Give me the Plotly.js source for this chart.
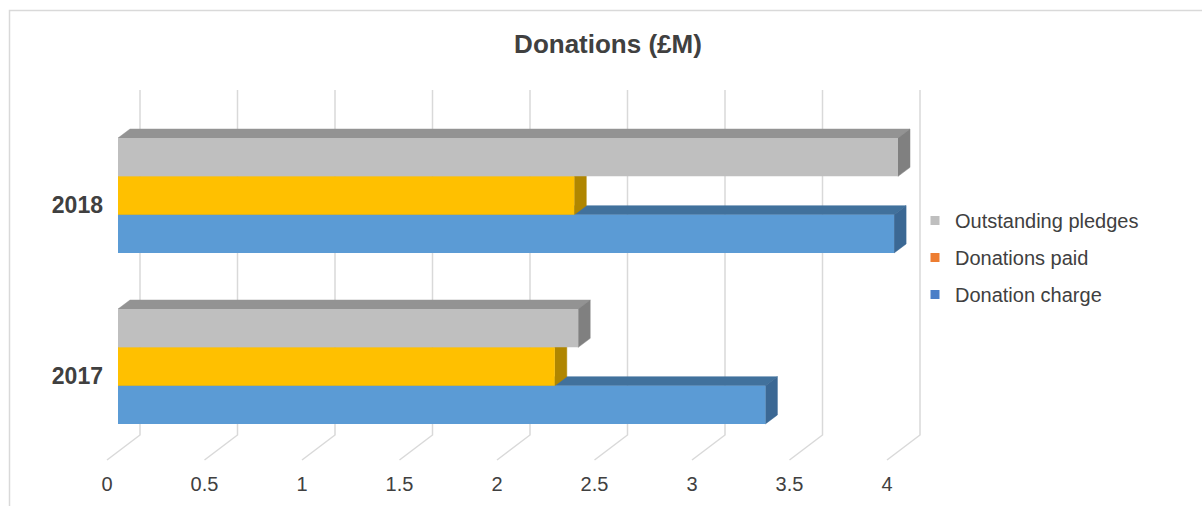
<!DOCTYPE html>
<html><head><meta charset="utf-8">
<script src="https://cdn.plot.ly/plotly-3.0.1.min.js"></script>
<style>html,body{margin:0;padding:0;background:#fff;}#chart{width:1202px;height:506px;}</style>
</head><body><div id="chart"></div>
<script>
// ---- data ----
const categories = ['2017', '2018'];
const seriesNames = ['Donation charge', 'Donations paid', 'Outstanding pledges'];
const donationCharge = [3.32, 3.98];
const donationsPaid = [2.24, 2.34];
const outstandingPledges = [2.36, 4.00];
const tickValues = [0, 0.5, 1, 1.5, 2, 2.5, 3, 3.5, 4];
const tickLabels = ['0', '0.5', '1', '1.5', '2', '2.5', '3', '3.5', '4'];
const chartTitle = 'Donations (£M)';

// ---- styles ----
const seriesValues = [donationCharge, donationsPaid, outstandingPledges];
const frontColors = ['#5B9BD5', '#FFC000', '#BFBFBF'];
const topColors = ['#41719C', '#B68A00', '#939393'];
const sideColors = ['#3B6894', '#B08600', '#808080'];
const legendColors = ['#4A7EC7', '#ED7D31', '#BFBFBF'];
const FONT = 'Liberation Sans, Arial, sans-serif';
const TEXT = '#404040';

// ---- geometry (px) ----
const W = 1202, H = 506;
const L = 104, R = 935, T = 85, B = 470;
const X0PX = 118, PXPERUNIT = 195;
const CAT0PX = 366.5, PXPERCAT = 171;
const xRange = [(L - X0PX) / PXPERUNIT, (R - X0PX) / PXPERUNIT];
const yLow = -(B - CAT0PX) / PXPERCAT;
const yRange = [yLow, yLow + (B - T) / PXPERCAT];
const BARGAP = 0.328;
const groupW = 1 - BARGAP, barW = groupW / 3;
const dX = 12 / PXPERUNIT, dY = 9 / PXPERCAT;
const paperX = px => (px - L) / (R - L);
const paperY = px => (B - px) / (B - T);
const pxToY = px => (CAT0PX - px) / PXPERCAT;

const traces = [];
// 3D faces (base subplot, drawn beneath the bars)
seriesValues.forEach((vals, si) => {
  const tx = [], ty = [], sx = [], sy = [];
  vals.forEach((v, ci) => {
    const yb = ci - groupW / 2 + si * barW, yt = yb + barW;
    tx.push(0, v, v + dX, dX, 0, null);
    ty.push(yt, yt, yt + dY, yt + dY, yt, null);
    sx.push(v, v, v + dX, v + dX, v, null);
    sy.push(yb, yt, yt + dY, yb + dY, yb, null);
  });
  traces.push({type: 'scatter', mode: 'lines', x: tx, y: ty, fill: 'toself',
    fillcolor: topColors[si], line: {width: 0.5, color: topColors[si]},
    hoverinfo: 'skip', showlegend: false, xaxis: 'x', yaxis: 'y'});
  traces.push({type: 'scatter', mode: 'lines', x: sx, y: sy, fill: 'toself',
    fillcolor: sideColors[si], line: {width: 0.5, color: sideColors[si]},
    hoverinfo: 'skip', showlegend: false, xaxis: 'x', yaxis: 'y'});
});
// front faces: real bars (overlay subplot)
seriesValues.forEach((vals, si) => {
  traces.push({type: 'bar', orientation: 'h', x: vals, y: categories, name: seriesNames[si],
    marker: {color: frontColors[si], line: {width: 0}}, showlegend: false,
    xaxis: 'x2', yaxis: 'y2'});
});
// legend entries (top to bottom: pledges, paid, charge)
[2, 1, 0].forEach((si, k) => {
  traces.push({type: 'scatter', mode: 'markers', x: [null], y: [null], name: seriesNames[si],
    legendgroup: 'g' + k, marker: {symbol: 'square', size: 9, color: legendColors[si]},
    hoverinfo: 'skip', xaxis: 'x', yaxis: 'y'});
});

// gridlines: back wall + floor
const backDX = (140 - X0PX) / PXPERUNIT;
const frontDX = (107 - X0PX) / PXPERUNIT;
const wallTop = pxToY(90), wallBottom = pxToY(435), floorFront = pxToY(460);
const shapes = tickValues.map(v => ({
  type: 'path', xref: 'x', yref: 'y', layer: 'below',
  path: `M${v + backDX},${wallTop} L${v + backDX},${wallBottom} L${v + frontDX},${floorFront}`,
  line: {color: '#D9D9D9', width: 1.5}
}));
shapes.push({type: 'rect', xref: 'paper', yref: 'paper', layer: 'below',
  x0: paperX(9.5), x1: paperX(1230), y0: paperY(540), y1: paperY(10.5),
  line: {color: '#D9D9D9', width: 1.5}, fillcolor: 'rgba(0,0,0,0)'});

const layout = {
  width: W, height: H,
  margin: {l: L, r: W - R, t: T, b: H - B, pad: 0},
  paper_bgcolor: '#fff', plot_bgcolor: 'rgba(0,0,0,0)',
  font: {family: FONT, color: TEXT},
  title: {text: chartTitle, font: {family: FONT, size: 26, color: TEXT, weight: 700},
    x: 608 / W, xref: 'container', xanchor: 'center', y: 1 - 44 / H, yref: 'container', yanchor: 'middle'},
  barmode: 'group', bargap: BARGAP, bargroupgap: 0,
  xaxis: {range: xRange, tickvals: tickValues, ticktext: tickLabels, ticks: '', showgrid: false,
    zeroline: false, showline: false, ticklabelshift: -11, tickfont: {size: 20, color: TEXT}, fixedrange: true},
  yaxis: {range: yRange, tickvals: categories.map((c, i) => i), ticktext: categories, ticks: '',
    showgrid: false, zeroline: false, showline: false, ticklabelshift: 9,
    tickfont: {size: 23, color: TEXT, weight: 700}, fixedrange: true},
  xaxis2: {overlaying: 'x', range: xRange, visible: false, fixedrange: true},
  yaxis2: {overlaying: 'y', type: 'category', categoryorder: 'array', categoryarray: categories,
    range: yRange, visible: false, fixedrange: true},
  legend: {x: paperX(915), y: paperY(201), xanchor: 'left', yanchor: 'top',
    traceorder: 'grouped', tracegroupgap: 8, bgcolor: 'rgba(0,0,0,0)',
    font: {size: 20, color: TEXT}},
  shapes: shapes,
  showlegend: true
};

Plotly.newPlot('chart', traces, layout, {displayModeBar: false, staticPlot: true});
</script>
</body></html>
